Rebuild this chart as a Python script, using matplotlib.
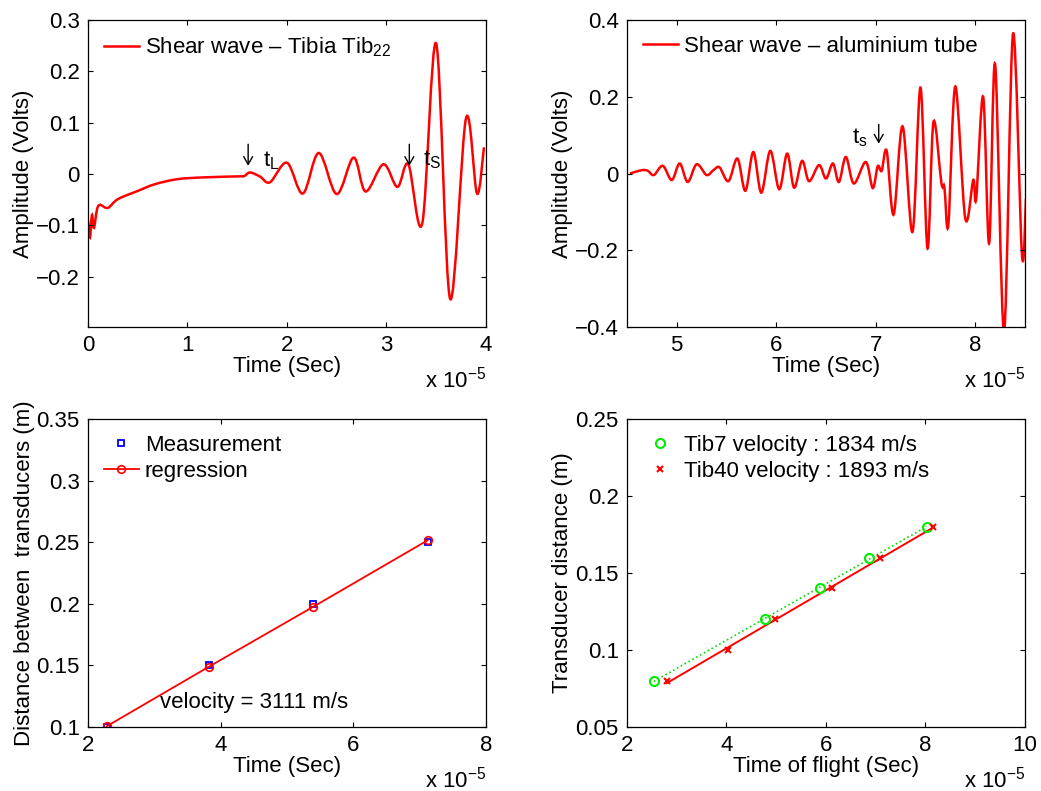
import numpy as np
import matplotlib
matplotlib.use('Agg')
import matplotlib.pyplot as plt
from matplotlib.path import Path
from matplotlib.patches import PathPatch
from matplotlib.lines import Line2D
from matplotlib.ticker import FuncFormatter

plt.rcParams['font.family'] = ['Liberation Sans', 'DejaVu Sans']
plt.rcParams['mathtext.fontset'] = 'custom'
plt.rcParams['mathtext.rm'] = 'Liberation Sans'
plt.rcParams['mathtext.it'] = 'Liberation Sans'
plt.rcParams['font.size'] = 16

# --- data (time in units of 1e-5 s) ---
# tibia shear wave: peaks / troughs
tib_t = [0.0, 0.02, 0.04, 0.06, 0.09, 0.12, 0.2, 0.3, 0.5, 0.67, 0.9, 1.17, 1.51, 1.57,
         1.63, 1.73, 1.83, 2.0, 2.16, 2.32, 2.5, 2.67, 2.79, 2.97, 3.11, 3.22, 3.36,
         3.5, 3.64, 3.8, 3.91, 3.98]
tib_v = [-0.09, -0.124, -0.08, -0.105, -0.07, -0.06, -0.066, -0.049, -0.033, -0.02, -0.01,
         -0.0065, -0.0046, -0.004, 0.003, -0.005, -0.016, 0.022, -0.038, 0.041, -0.039,
         0.032, -0.034, 0.019, -0.025, 0.019, -0.096, 0.254, -0.243, 0.109, -0.038, 0.052]

# aluminium tube shear wave
alu_t = [4.53, 4.58, 4.66, 4.71, 4.77, 4.86, 4.95, 5.03, 5.11, 5.2, 5.3, 5.37, 5.43, 5.52,
         5.61, 5.69, 5.77, 5.85, 5.94, 6.03, 6.11, 6.18, 6.26, 6.33, 6.43, 6.5, 6.57, 6.63,
         6.7, 6.78, 6.9, 6.97, 7.02, 7.06, 7.11, 7.18, 7.27, 7.37, 7.45, 7.52, 7.58, 7.66,
         7.69, 7.73, 7.8, 7.9, 7.98, 8.01, 8.08, 8.14, 8.2, 8.29, 8.38, 8.47, 8.51]
alu_v = [0.0, 0.004, 0.009, 0.007, -0.004, 0.02, -0.017, 0.026, -0.022, 0.024, -0.004,
         0.009, 0.016, -0.02, 0.039, -0.045, 0.056, -0.05, 0.059, -0.041, 0.052, -0.037,
         0.033, -0.02, 0.022, -0.013, 0.026, -0.022, 0.043, -0.026, 0.03, -0.038, 0.019,
         0.007, 0.059, -0.107, 0.123, -0.152, 0.224, -0.195, 0.134, -0.025, -0.035, -0.134,
         0.227, -0.117, -0.017, -0.065, 0.2, -0.182, 0.285, -0.41, 0.364, -0.213, -0.065]

# velocity from distance vs time
meas_t = [2.28, 3.825, 5.40, 7.12]
meas_d = [0.10, 0.15, 0.20, 0.25]
reg_d = [0.1005, 0.149, 0.1977, 0.2515]

tib7_t = [2.54, 4.78, 5.87, 6.86, 8.03]
tib7_d = [0.08, 0.12, 0.14, 0.16, 0.18]
tib40_t = [2.80, 4.04, 4.98, 6.12, 7.08, 8.16]
tib40_d = [0.08, 0.10, 0.12, 0.14, 0.16, 0.18]


def smooth_path(x, y):
    pts = np.column_stack([x, y])
    n = len(pts)
    verts = [pts[0]]
    codes = [Path.MOVETO]
    for i in range(n - 1):
        p0 = pts[max(i - 1, 0)]
        p1 = pts[i]
        p2 = pts[i + 1]
        p3 = pts[min(i + 2, n - 1)]
        verts += [p1 + (p2 - p0) / 6, p2 - (p3 - p1) / 6, p2]
        codes += [Path.CURVE4] * 3
    return Path(verts, codes)


def fmt(v, _):
    return ('%g' % v).replace('-', '\u2212')


def style(ax):
    ax.tick_params(direction='in', top=True, right=True, length=3.5, width=0.8, pad=6)
    for s in ax.spines.values():
        s.set_linewidth(0.9)
    ax.xaxis.set_major_formatter(FuncFormatter(fmt))
    ax.yaxis.set_major_formatter(FuncFormatter(fmt))
    ax.text(1.0, -0.17, r'x 10$^{\mathrm{-5}}$', transform=ax.transAxes, ha='right', va='center')


def arrow(ax, x, ytop, ytip):
    ax.annotate('', xy=(x, ytip), xytext=(x, ytop),
                arrowprops=dict(arrowstyle='->,head_length=0.35,head_width=0.2',
                                lw=1.0, color='black', shrinkA=0, shrinkB=0))


leg_kw = dict(loc='upper left', frameon=False, handlelength=1.6, handletextpad=0.25,
              borderaxespad=0.3, labelspacing=0.25, fontsize=16)

fig = plt.figure(figsize=(10.41, 7.91), dpi=100)
ax1 = fig.add_axes([0.0845, 0.5866, 0.3823, 0.3881])
ax2 = fig.add_axes([0.6023, 0.5866, 0.3823, 0.3881])
ax3 = fig.add_axes([0.0845, 0.0809, 0.3823, 0.3894])
ax4 = fig.add_axes([0.6023, 0.0809, 0.3823, 0.3894])

# top left: tibia
ax1.add_patch(PathPatch(smooth_path(tib_t, tib_v), fill=False, edgecolor='red', lw=1.8))
ax1.set_xlim(0, 4)
ax1.set_ylim(-0.298, 0.3)
ax1.set_yticks([-0.2, -0.1, 0, 0.1, 0.2, 0.3])
ax1.set_xlabel('Time (Sec)', labelpad=0)
ax1.set_ylabel('Amplitude (Volts)', labelpad=1)
arrow(ax1, 1.61, 0.058, 0.016)
ax1.text(1.76, 0.014, r't$_{\mathrm{L}}$', va='baseline')
arrow(ax1, 3.23, 0.058, 0.016)
ax1.text(3.37, 0.016, r't$_{\mathrm{S}}$', va='baseline')
ax1.legend([Line2D([], [], color='red', lw=1.8)], ['Shear wave \u2013 Tibia Tib$_{22}$'], **leg_kw)
style(ax1)

# top right: aluminium
ax2.add_patch(PathPatch(smooth_path(alu_t, alu_v), fill=False, edgecolor='red', lw=1.8))
ax2.set_xlim(4.5, 8.5)
ax2.set_ylim(-0.4, 0.4)
ax2.set_xticks([5, 6, 7, 8])
ax2.set_yticks([-0.4, -0.2, 0, 0.2, 0.4])
ax2.set_xlabel('Time (Sec)', labelpad=0)
ax2.set_ylabel('Amplitude (Volts)', labelpad=1)
ax2.text(6.76, 0.079, r't$_{\mathrm{s}}$', va='baseline')
arrow(ax2, 7.03, 0.128, 0.078)
ax2.legend([Line2D([], [], color='red', lw=1.8)], ['Shear wave \u2013 aluminium tube'], **leg_kw)
style(ax2)

# bottom left: regression
ax3.plot(meas_t, meas_d, 's', color='blue', mfc='none', ms=5, mew=1.3, label='Measurement')
ax3.plot(meas_t, reg_d, '-o', color='red', mfc='none', ms=5.5, mew=1.2, lw=1.3, label='regression')
ax3.set_xlim(2, 8)
ax3.set_ylim(0.1, 0.35)
ax3.set_xticks([2, 4, 6, 8])
ax3.set_yticks([0.1, 0.15, 0.2, 0.25, 0.3, 0.35])
ax3.set_xlabel('Time (Sec)', labelpad=0)
ax3.set_ylabel('Distance between  transducers (m)', labelpad=1)
ax3.text(3.08, 0.12, 'velocity = 3111 m/s', va='center')
ax3.legend(**leg_kw)
style(ax3)

# bottom right: two tibias
p7 = np.polyfit(tib7_t, tib7_d, 1)
p40 = np.polyfit(tib40_t, tib40_d, 1)
ax4.plot([tib7_t[0], tib7_t[-1]], np.polyval(p7, [tib7_t[0], tib7_t[-1]]), ':', color='#00dd00', lw=1.2)
ax4.plot([tib40_t[0], tib40_t[-1]], np.polyval(p40, [tib40_t[0], tib40_t[-1]]), '-', color='red', lw=1.4)
ax4.plot(tib7_t, tib7_d, 'o', color='#00ee00', mfc='none', ms=6.5, mew=1.5, label='Tib7 velocity : 1834 m/s')
ax4.plot(tib40_t, tib40_d, 'x', color='red', ms=4, mew=1.5, label='Tib40 velocity : 1893 m/s')
ax4.set_xlim(2, 10)
ax4.set_ylim(0.05, 0.25)
ax4.set_xticks([2, 4, 6, 8, 10])
ax4.set_yticks([0.05, 0.1, 0.15, 0.2, 0.25])
ax4.set_xlabel('Time of flight (Sec)', labelpad=0)
ax4.set_ylabel('Transducer distance (m)', labelpad=2)
ax4.legend(**leg_kw)
style(ax4)

fig.savefig('out.png', dpi=100)
